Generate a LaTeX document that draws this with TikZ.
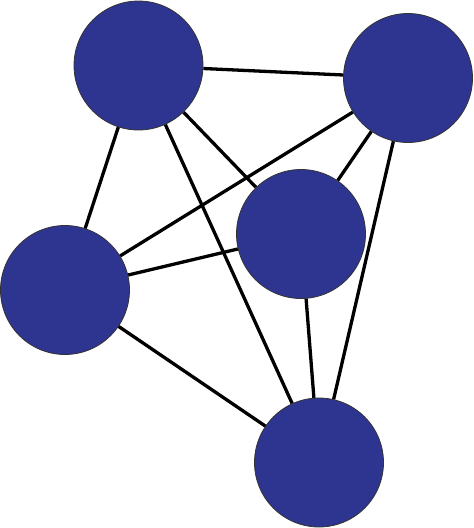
\documentclass[tikz,border=0pt]{standalone}
\definecolor{nodeblue}{HTML}{2E3590}
\begin{document}
\begin{tikzpicture}[x=1pt,y=-1pt,
  ball/.style={circle,fill=nodeblue,draw=black!80,line width=0.8pt,minimum size=129pt,inner sep=0pt},
  edge/.style={line width=3.3pt,black}]
\useasboundingbox (0,0) rectangle (474,528);
\node[ball] (A) at (138.5,65.5) {};
\node[ball] (B) at (408,78) {};
\node[ball] (C) at (301,234) {};
\node[ball] (D) at (65,290) {};
\node[ball] (E) at (319,462.5) {};
\draw[edge] (A) -- (B);
\draw[edge] (A) -- (D);
\draw[edge] (A) -- (C);
\draw[edge] (A) -- (E);
\draw[edge] (B) -- (D);
\draw[edge] (B) -- (C);
\draw[edge] (B) -- (E);
\draw[edge] (D) -- (C);
\draw[edge] (D) -- (E);
\draw[edge] (C) -- (E);
\end{tikzpicture}
\end{document}
